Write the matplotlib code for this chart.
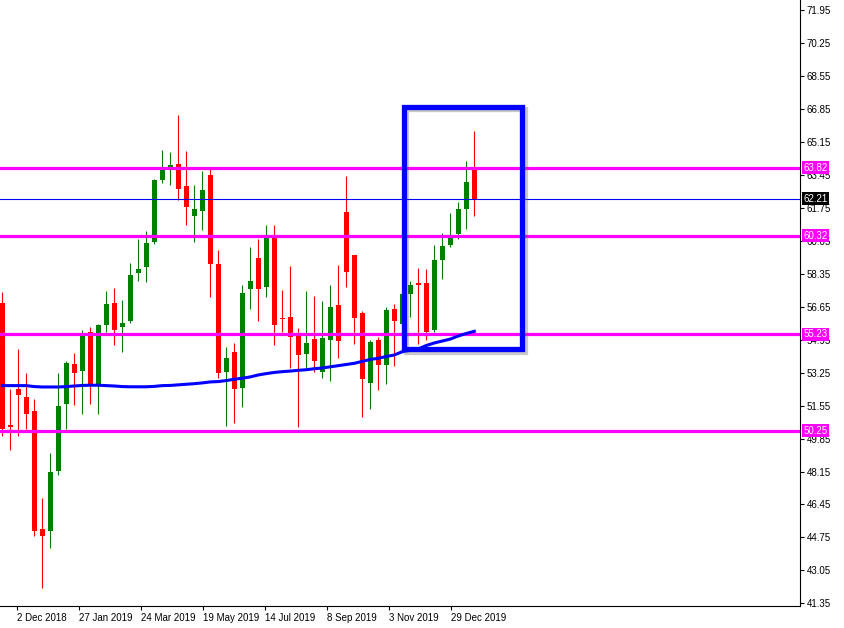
import numpy as np
import matplotlib
matplotlib.use("Agg")
import matplotlib.pyplot as plt
import matplotlib.patheffects as pe
from matplotlib.patches import Rectangle
from matplotlib.transforms import blended_transform_factory

plt.rcParams['font.family'] = ['Liberation Sans', 'DejaVu Sans']

# weekly candles
opens = [56.86, 50.56, 52.41, 51.99, 51.27, 45.19, 45.10, 48.18, 51.65, 53.69,
         53.35, 55.35, 52.65, 55.72, 56.84, 55.62, 55.91, 58.39, 58.70, 59.99,
         63.18, 63.70, 64.01, 62.87, 61.33, 61.58, 63.44, 58.85, 53.30, 54.31,
         52.47, 57.58, 59.16, 57.68, 60.24, 56.08, 56.12, 55.21, 54.23, 55.00,
         53.30, 54.95, 56.74, 61.53, 59.32, 56.33, 52.73, 54.93, 53.66, 56.53,
         55.78, 57.32, 57.87, 57.87, 55.46, 59.07, 59.85, 60.41, 61.70, 63.75]
highs = [57.41, 52.41, 54.47, 53.23, 51.89, 46.78, 49.10, 53.23, 53.85, 54.26,
         55.45, 55.60, 55.76, 57.46, 57.61, 56.99, 58.90, 60.14, 60.55, 63.23,
         64.73, 64.63, 66.54, 64.68, 62.92, 63.65, 63.75, 59.57, 54.57, 54.78,
         57.77, 59.73, 60.14, 60.86, 60.86, 57.51, 58.75, 55.55, 57.46, 57.20,
         56.94, 57.77, 58.80, 63.39, 59.32, 56.43, 54.93, 55.09, 56.63, 56.80,
         57.51, 57.97, 58.65, 58.59, 59.83, 60.45, 61.48, 62.05, 64.16, 65.71]
lows = [49.99, 49.28, 49.99, 50.34, 44.84, 42.16, 44.22, 47.99, 50.34, 51.58,
        51.12, 51.65, 51.12, 55.35, 54.67, 54.31, 55.82, 57.97, 57.92, 59.90,
        63.04, 62.93, 62.15, 60.86, 59.99, 60.61, 57.15, 52.99, 50.51, 50.67,
        51.49, 56.55, 55.93, 57.16, 54.69, 55.36, 53.50, 50.46, 53.50, 53.30,
        52.99, 52.83, 54.02, 57.67, 54.74, 50.98, 51.39, 52.36, 52.68, 53.61,
        55.55, 56.13, 54.74, 54.95, 55.36, 58.09, 59.74, 60.16, 60.67, 61.34]
closes = [50.34, 50.46, 52.11, 51.13, 45.10, 44.84, 48.12, 51.53, 53.75, 53.24,
          55.26, 52.65, 55.71, 56.79, 55.45, 55.81, 58.28, 58.59, 59.93, 63.18,
          63.75, 63.96, 62.72, 61.79, 61.69, 62.67, 58.85, 53.24, 54.00, 52.42,
          57.36, 57.97, 57.58, 60.24, 55.72, 56.03, 55.10, 54.17, 54.78, 53.86,
          55.05, 56.63, 54.89, 58.44, 56.08, 52.94, 54.83, 53.66, 56.48, 55.93,
          57.33, 57.77, 57.78, 55.36, 59.06, 59.78, 60.26, 61.70, 63.08, 62.22]
# moving average line
ma = [52.58, 52.58, 52.58, 52.58, 52.53, 52.51, 52.51, 52.51, 52.53, 52.56,
      52.59, 52.60, 52.60, 52.58, 52.56, 52.53, 52.52, 52.52, 52.52, 52.54,
      52.58, 52.59, 52.62, 52.65, 52.68, 52.72, 52.77, 52.79, 52.84, 52.91,
      52.96, 53.03, 53.13, 53.20, 53.26, 53.30, 53.33, 53.37, 53.40, 53.45,
      53.49, 53.55, 53.61, 53.67, 53.73, 53.83, 53.93, 53.99, 54.08, 54.16,
      54.33, 54.40, 54.47, 54.65, 54.78, 54.88, 54.98, 55.14, 55.27, 55.38]

levels = [63.82, 60.32, 55.23, 50.25]
current_price = 62.21
date_labels = ["2 Dec 2018", "27 Jan 2019", "24 Mar 2019", "19 May 2019",
               "14 Jul 2019", "8 Sep 2019", "3 Nov 2019", "29 Dec 2019"]

opens = np.array(opens)
closes = np.array(closes)
x = np.arange(len(opens))
up = closes >= opens

fig = plt.figure(figsize=(8.44, 6.28), dpi=100)
ax = fig.add_axes([0, 22 / 628, 800 / 844, 606 / 628])

# wicks and bodies
ax.vlines(x[up], np.array(lows)[up], np.array(highs)[up], color='#008000', lw=0.8, zorder=2)
ax.vlines(x[~up], np.array(lows)[~up], np.array(highs)[~up], color='#ff0000', lw=0.8, zorder=2)
body_h = np.maximum(np.abs(closes - opens), 0.06)
body_b = np.minimum(opens, closes)
ax.bar(x[up], body_h[up], bottom=body_b[up], width=0.63, color='#008000', lw=0, zorder=3)
ax.bar(x[~up], body_h[~up], bottom=body_b[~up], width=0.63, color='#ff0000', lw=0, zorder=3)

# horizontal levels and moving average
for lv in levels:
    ax.axhline(lv, color='#ff00ff', lw=2.3, zorder=4)
ax.axhline(current_price, color='#0000ff', lw=0.8, zorder=4)
ax.plot(x, ma, color='#0000ff', lw=2.2, zorder=5)

# highlight box with a soft shadow
box = Rectangle((50.15, 54.48), 64.94 - 50.15, 66.97 - 54.48, fill=False,
                edgecolor='#0000ff', lw=3.8, zorder=6,
                path_effects=[pe.SimpleLineShadow(offset=(2, -2), shadow_color='#666666', alpha=0.35),
                              pe.Normal()])
ax.add_patch(box)

ax.set_xlim(-0.29, 99.71)
ax.set_ylim(41.215, 72.466)

# axes styling
for side in ['top', 'left']:
    ax.spines[side].set_visible(False)
ax.spines['right'].set_linewidth(0.8)
ax.spines['bottom'].set_linewidth(0.8)

ax.yaxis.tick_right()
yt = 41.35 + 1.7 * np.arange(19)
ax.set_yticks(yt)
ax.set_yticklabels([f"{v:.2f}" for v in yt])
ax.tick_params(axis='y', direction='out', length=3, width=0.8, pad=2, labelsize=7)

xt = 1.875 + 7.75 * np.arange(len(date_labels))
ax.set_xticks(xt)
ax.set_xticklabels(date_labels, ha='left')
ax.tick_params(axis='x', direction='out', length=3, width=0.8, pad=2, labelsize=7)

# price tags on the right scale
trans = blended_transform_factory(ax.transAxes, ax.transData)
for lv in levels:
    ax.text(1.004, lv, f"{lv:.2f}", transform=trans, color='white', fontsize=7,
            va='center', ha='left', clip_on=False, zorder=10,
            bbox=dict(boxstyle='square,pad=0.15', fc='#ff00ff', ec='none'))
ax.text(1.004, current_price, f"{current_price:.2f}", transform=trans, color='white',
        fontsize=7, va='center', ha='left', clip_on=False, zorder=10,
        bbox=dict(boxstyle='square,pad=0.15', fc='black', ec='none'))

fig.savefig("out.png", dpi=100)
